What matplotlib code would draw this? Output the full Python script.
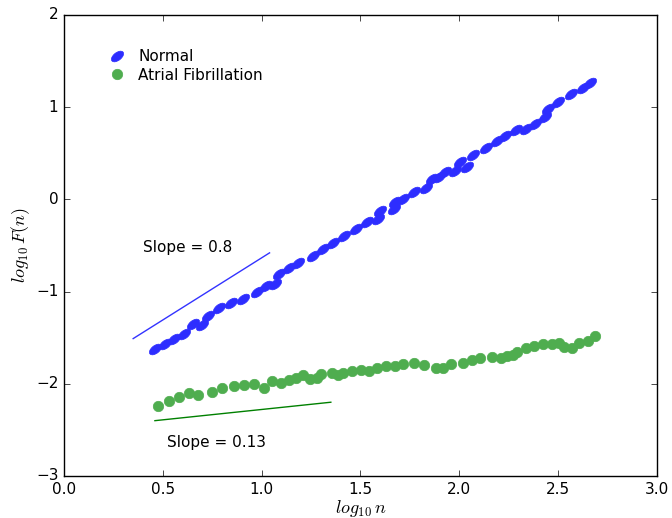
import matplotlib
matplotlib.use('Agg')
import matplotlib.pyplot as plt
from matplotlib.path import Path
from matplotlib.transforms import Affine2D

# log10 n / log10 F(n) for the two groups
normal_x = [0.460, 0.511, 0.556, 0.607, 0.652, 0.698, 0.728, 0.784, 0.845, 0.905,
            0.976, 1.022, 1.067, 1.088, 1.138, 1.184, 1.259, 1.310, 1.361, 1.416,
            1.477, 1.533, 1.588, 1.598, 1.669, 1.674, 1.715, 1.770, 1.831, 1.861,
            1.897, 1.927, 1.978, 2.003, 2.038, 2.069, 2.135, 2.190, 2.231, 2.286,
            2.337, 2.382, 2.433, 2.448, 2.499, 2.565, 2.625, 2.661]
normal_y = [-1.627, -1.573, -1.518, -1.464, -1.356, -1.367, -1.269, -1.182, -1.128, -1.085,
            -1.009, -0.944, -0.922, -0.813, -0.748, -0.694, -0.618, -0.542, -0.477, -0.401,
            -0.325, -0.249, -0.217, -0.130, -0.108, -0.033, 0.000, 0.076, 0.119, 0.217,
            0.239, 0.293, 0.304, 0.401, 0.347, 0.477, 0.553, 0.629, 0.683, 0.748,
            0.759, 0.813, 0.889, 0.976, 1.052, 1.139, 1.204, 1.258]

af_x = [0.475, 0.531, 0.582, 0.632, 0.678, 0.749, 0.799, 0.860, 0.911, 0.961,
        1.012, 1.052, 1.098, 1.138, 1.174, 1.209, 1.244, 1.280, 1.300, 1.356,
        1.386, 1.411, 1.457, 1.502, 1.543, 1.583, 1.629, 1.674, 1.715, 1.770,
        1.821, 1.882, 1.917, 1.958, 2.018, 2.064, 2.104, 2.165, 2.210, 2.241,
        2.271, 2.291, 2.337, 2.377, 2.423, 2.468, 2.504, 2.529, 2.570, 2.605,
        2.650, 2.686]
af_y = [-2.245, -2.191, -2.148, -2.104, -2.126, -2.093, -2.050, -2.028, -2.017, -2.007,
        -2.050, -1.974, -1.996, -1.963, -1.941, -1.909, -1.952, -1.941, -1.898, -1.887,
        -1.909, -1.887, -1.866, -1.855, -1.866, -1.833, -1.811, -1.811, -1.790, -1.779,
        -1.800, -1.833, -1.833, -1.790, -1.779, -1.746, -1.725, -1.714, -1.725, -1.703,
        -1.692, -1.659, -1.616, -1.594, -1.573, -1.573, -1.562, -1.605, -1.616, -1.562,
        -1.540, -1.486]

# reference slope lines
slope_normal_x = [0.35, 1.04]
slope_normal_y = [-1.51, -0.58]
slope_af_x = [0.46, 1.35]
slope_af_y = [-2.40, -2.20]

plt.style.use('classic')
fig = plt.figure(figsize=(6.72, 5.18), dpi=100)
ax = fig.add_axes([0.0952, 0.0811, 0.8825, 0.8900])

# tilted ellipse marker for the Normal series
ellipse = Path.unit_circle().transformed(Affine2D().scale(1.0, 0.55).rotate_deg(38))

ax.plot(normal_x, normal_y, linestyle='none', marker=ellipse, markersize=9,
        color='#2d2dff', mec='#2d2dff', label='Normal')
ax.plot(af_x, af_y, linestyle='none', marker='o', markersize=7.5,
        color='#4fad4f', mec='#4fad4f', label='Atrial Fibrillation')

ax.plot(slope_normal_x, slope_normal_y, color='#3333ff', lw=1)
ax.plot(slope_af_x, slope_af_y, color='#008000', lw=1)

ax.text(0.40, -0.52, 'Slope = 0.8', fontsize=11, va='center')
ax.text(0.52, -2.64, 'Slope = 0.13', fontsize=11, va='center')

ax.set_xlim(0, 3)
ax.set_ylim(-3, 2)
ax.set_xticks([0.0, 0.5, 1.0, 1.5, 2.0, 2.5, 3.0])
ax.set_yticks([-3, -2, -1, 0, 1, 2])
ax.tick_params(labelsize=11)
ax.set_xlabel(r'$log_{10}\,n$', fontsize=13, labelpad=1)
ax.set_ylabel(r'$log_{10}\,F(n)$', fontsize=13, labelpad=3)

ax.legend(loc='upper left', bbox_to_anchor=(0.045, 0.955), frameon=False,
          numpoints=1, fontsize=11, handletextpad=0.6, labelspacing=0.2,
          handlelength=1.6, borderaxespad=0.5)

fig.savefig('out.png', dpi=100)
